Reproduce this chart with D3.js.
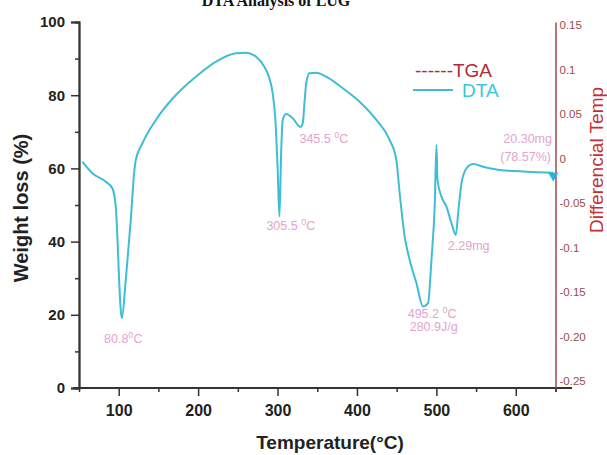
<!DOCTYPE html>
<html>
<head>
<meta charset="utf-8">
<script src="https://cdn.jsdelivr.net/npm/d3@7"></script>
<style>
  html, body { margin: 0; padding: 0; background: #fff; }
  svg { display: block; }
</style>
</head>
<body>
<svg id="chart" width="607" height="455"></svg>
<script>
// ---- data ----
const temperature = [54.2, 66.8, 83.7, 92.0, 96.3, 98.3, 100.5, 103.9, 108.9, 115.2, 119.4, 121.5, 129.9, 146.8, 172.0, 197.3, 222.5, 247.7, 260.3, 273.0, 283.4, 289.7, 293.9, 297.3, 300.2, 302.4, 304.5, 306.5, 310.8, 319.1, 328.9, 331.8, 333.9, 336.1, 340.2, 348.7, 361.3, 382.2, 403.3, 424.4, 441.2, 449.6, 453.8, 460.1, 466.4, 474.9, 483.2, 489.5, 493.8, 498.0, 500.1, 501.4, 506.4, 512.7, 519.0, 524.5, 527.4, 531.6, 538.0, 546.3, 558.9, 580.0, 613.7, 647.2];
const dta = [-0.0036, -0.0166, -0.0261, -0.0335, -0.0542, -0.0879, -0.1365, -0.1796, -0.1365, -0.0691, -0.0166, -0.0017, 0.0171, 0.0433, 0.0713, 0.0919, 0.1088, 0.1182, 0.1189, 0.1144, 0.1031, 0.0901, 0.0733, 0.0433, -0.0129, -0.0654, 0.0058, 0.0433, 0.0500, 0.0452, 0.0354, 0.0396, 0.0624, 0.0845, 0.0957, 0.0964, 0.0919, 0.0789, 0.0638, 0.0433, 0.0208, -0.0017, -0.0391, -0.0879, -0.1140, -0.1402, -0.1665, -0.1627, -0.1140, -0.0503, 0.0152, -0.0242, -0.0429, -0.0542, -0.0728, -0.0860, -0.0616, -0.0279, -0.0110, -0.0062, -0.0092, -0.0129, -0.0148, -0.0160];

const xMajorTicks = [100, 200, 300, 400, 500, 600];
const xMinorTicks = [50, 150, 250, 350, 450, 550, 650];
const leftMajorTicks = [0, 20, 40, 60, 80, 100];
const leftMinorTicks = [10, 30, 50, 70, 90];
const rightTicks = [0.15, 0.1, 0.05, 0, -0.05, -0.1, -0.15, -0.2, -0.25];
const rightTickLabels = ["0.15", "0.1", "0.05", "0", "-0.05", "-0.1", "-0.15", "-0.20", "-0.25"];

// annotations: [temperature, dta, main text, superscript, tail, anchor]
const annotations = [
  [81.5, -0.2073, "80.8", "0", "C", "start"],
  [286.0, -0.0803, "305.5 ", "0", "C", "start"],
  [327.6, 0.0174, "345.5 ", "0", "C", "start"],
  [463.9, -0.1792, "495.2 ", "0", "C", "start"],
  [466.4, -0.1938, "280.9J/g", "", "", "start"],
  [514.4, -0.1028, "2.29mg", "", "", "start"],
  [645.6, 0.0174, "20.30mg", "", "", "end"],
  [644.3, -0.0034, "(78.57%)", "", "", "end"]
];

const titleText = "DTA Analysis of LUG";
const xTitle = "Temperature(°C)";
const yLeftTitle = "Weight loss (%)";
const yRightTitle = "Differencial Temp";
const legendItems = ["TGA", "DTA"];

// ---- scales ----
const svg = d3.select("#chart");
const x = d3.scaleLinear().domain([50, 650]).range([79, 555.5]);
const yL = d3.scaleLinear().domain([0, 100]).range([388, 22]);
const yR = d3.scaleLinear().domain([-0.258, 0.1534]).range([388, 22]);

const sans = "'Liberation Sans', Arial, Helvetica, sans-serif";
const axisColor = "#333";
const rightColor = "#a04a4a";
const curveColor = "#3fbcd6";
const annColor = "#e2a4cf";

// ---- title ----
svg.append("text")
  .attr("x", 276).attr("y", 6)
  .attr("text-anchor", "middle")
  .attr("font-family", "'Liberation Serif', 'Times New Roman', serif")
  .attr("font-weight", "bold").attr("font-size", 16)
  .attr("fill", "#111")
  .text(titleText);

// ---- left axis ----
const gL = svg.append("g").attr("transform", `translate(${x(50)},0)`);
gL.call(d3.axisLeft(yL).tickValues(leftMajorTicks).tickSize(8).tickPadding(6).tickFormat(d3.format("d")));
gL.append("g").call(d3.axisLeft(yL).tickValues(leftMinorTicks).tickSize(4).tickFormat(""));
gL.selectAll(".domain").attr("stroke", axisColor).attr("stroke-width", 1.8);
gL.selectAll(".tick line").attr("stroke", axisColor).attr("stroke-width", 1.5);
gL.selectAll(".tick text").attr("font-family", sans).attr("font-weight", "bold")
  .attr("font-size", 15).attr("fill", "#222");

// ---- bottom axis ----
const gB = svg.append("g").attr("transform", `translate(0,${yL(0)})`);
gB.call(d3.axisBottom(x).tickValues(xMajorTicks).tickSize(8).tickPadding(9).tickFormat(d3.format("d")));
gB.append("g").call(d3.axisBottom(x).tickValues(xMinorTicks).tickSize(4).tickFormat(""));
gB.select(".domain").remove();
gB.append("line").attr("x1", 73).attr("x2", 572).attr("y1", 0).attr("y2", 0)
  .attr("stroke", axisColor).attr("stroke-width", 1.8);
gB.selectAll(".tick line").attr("stroke", axisColor).attr("stroke-width", 1.5);
gB.selectAll(".tick text").attr("font-family", sans).attr("font-weight", "bold")
  .attr("font-size", 16).attr("fill", "#222");

// ---- right axis ----
const gR = svg.append("g").attr("transform", `translate(${x(650)},0)`);
gR.call(d3.axisRight(yR).tickValues(rightTicks).tickSize(0).tickPadding(4)
  .tickFormat((d, i) => rightTickLabels[i]));
gR.select(".domain").attr("stroke", rightColor).attr("stroke-width", 1.5);
gR.selectAll(".tick text").attr("font-family", sans).attr("font-size", 11.5).attr("fill", rightColor);

// ---- axis titles ----
svg.append("text")
  .attr("x", 330).attr("y", 449)
  .attr("text-anchor", "middle")
  .attr("font-family", sans).attr("font-weight", "bold").attr("font-size", 19)
  .attr("fill", "#222").text(xTitle);

svg.append("text")
  .attr("transform", "translate(28,208) rotate(-90)")
  .attr("text-anchor", "middle")
  .attr("font-family", sans).attr("font-weight", "bold").attr("font-size", 20)
  .attr("fill", "#222").text(yLeftTitle);

svg.append("text")
  .attr("transform", "translate(603,160) rotate(-90)")
  .attr("text-anchor", "middle")
  .attr("font-family", sans).attr("font-size", 19)
  .attr("fill", "#c4302f").text(yRightTitle);

// ---- DTA curve ----
const pts = temperature.map((t, i) => [t, dta[i]]);
const line = d3.line().x(d => x(d[0])).y(d => yR(d[1])).curve(d3.curveMonotoneX);
svg.append("path").datum(pts)
  .attr("d", line)
  .attr("fill", "none").attr("stroke", curveColor).attr("stroke-width", 2)
  .attr("stroke-linejoin", "round");

// end marker
const last = pts[pts.length - 1];
svg.append("path")
  .attr("d", d3.symbol().type(d3.symbolTriangle).size(45)())
  .attr("transform", `translate(${x(last[0])},${yR(last[1]) + 3}) rotate(180)`)
  .attr("fill", "#22b6dc");

// ---- annotations ----
annotations.forEach(a => {
  const t = svg.append("text")
    .attr("x", x(a[0])).attr("y", yR(a[1]))
    .attr("text-anchor", a[5])
    .attr("font-family", sans).attr("font-size", 12.5)
    .attr("fill", annColor);
  t.append("tspan").text(a[2]);
  if (a[3]) {
    t.append("tspan").attr("dy", -5).attr("font-size", 9).text(a[3]);
    t.append("tspan").attr("dy", 5).text(a[4]);
  }
});

// ---- legend ----
svg.append("text")
  .attr("x", 415).attr("y", 77)
  .attr("font-family", sans).attr("font-size", 19)
  .attr("fill", "#b02a36").text("------" + legendItems[0]);
svg.append("line")
  .attr("x1", 413).attr("x2", 453).attr("y1", 90).attr("y2", 90)
  .attr("stroke", curveColor).attr("stroke-width", 1.8);
svg.append("text")
  .attr("x", 462).attr("y", 97)
  .attr("font-family", sans).attr("font-size", 19)
  .attr("fill", "#3cc6dc").text(legendItems[1]);
</script>
</body>
</html>
